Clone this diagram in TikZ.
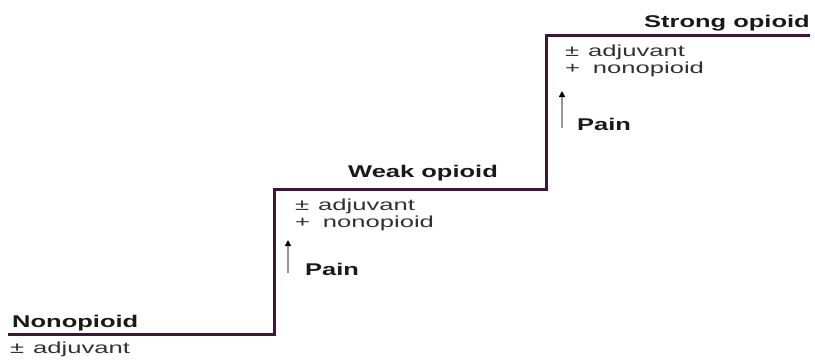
\documentclass[tikz,border=0pt]{standalone}
\usepackage{fontspec}
\setmainfont{Liberation Sans}
\usetikzlibrary{arrows.meta}
\definecolor{stair}{RGB}{62,22,56}
\definecolor{txtgray}{RGB}{50,50,50}
\definecolor{shaftgray}{RGB}{150,150,150}
\newcommand{\bt}[1]{\scalebox{1.5}[1]{\fontsize{17}{20}\selectfont\bfseries #1}}
\newcommand{\rt}[1]{\scalebox{1.6}[1]{\fontsize{16}{19}\selectfont #1}}
\begin{document}
\begin{tikzpicture}[x=1pt,y=-1pt,
  lbl/.style={inner sep=0pt,anchor=base west,text=black!90},
  sub/.style={inner sep=0pt,anchor=base west,text=txtgray},
  stairline/.style={draw=stair,line width=3pt,line join=miter},
  painarrow/.style={draw=shaftgray,line width=2.2pt,-{Triangle[length=6pt,width=6pt,fill=black,color=black]}}]
\useasboundingbox (0,0) rectangle (815,360);
% staircase
\coordinate (s0) at (8,334);
\coordinate (s1) at (274,334);
\coordinate (s2) at (274,189);
\coordinate (s3) at (546,189);
\coordinate (s4) at (546,35);
\coordinate (s5) at (810,35);
\draw[stairline] (s0) -- (s1) -- (s2) -- (s3) -- (s4) -- (s5);
% step 1
\node[lbl] (non) at (12,327) {\bt{Nonopioid}};
\node[sub] (adj1) at (10,353) {\rt{±\hspace{0.35em}adjuvant}};
% step 2
\node[lbl] (weak) at (348,177) {\bt{Weak opioid}};
\node[sub] (adj2) at (295,210) {\rt{±\hspace{0.35em}adjuvant}};
\node[sub] (non2) at (295,227) {\rt{+\hspace{0.5em}nonopioid}};
\node[lbl] (pain1) at (305,275) {\bt{Pain}};
\coordinate (a1s) at (288,273);
\coordinate (a1e) at (288,240);
\draw[painarrow] (a1s) -- (a1e);
% step 3
\node[lbl,anchor=base east] (strong) at (810,27) {\bt{Strong opioid}};
\node[sub] (adj3) at (565,56) {\rt{±\hspace{0.35em}adjuvant}};
\node[sub] (non3) at (565,73) {\rt{+\hspace{0.5em}nonopioid}};
\node[lbl] (pain2) at (577,130) {\bt{Pain}};
\coordinate (a2s) at (562,128);
\coordinate (a2e) at (562,91);
\draw[painarrow] (a2s) -- (a2e);
\end{tikzpicture}
\end{document}
